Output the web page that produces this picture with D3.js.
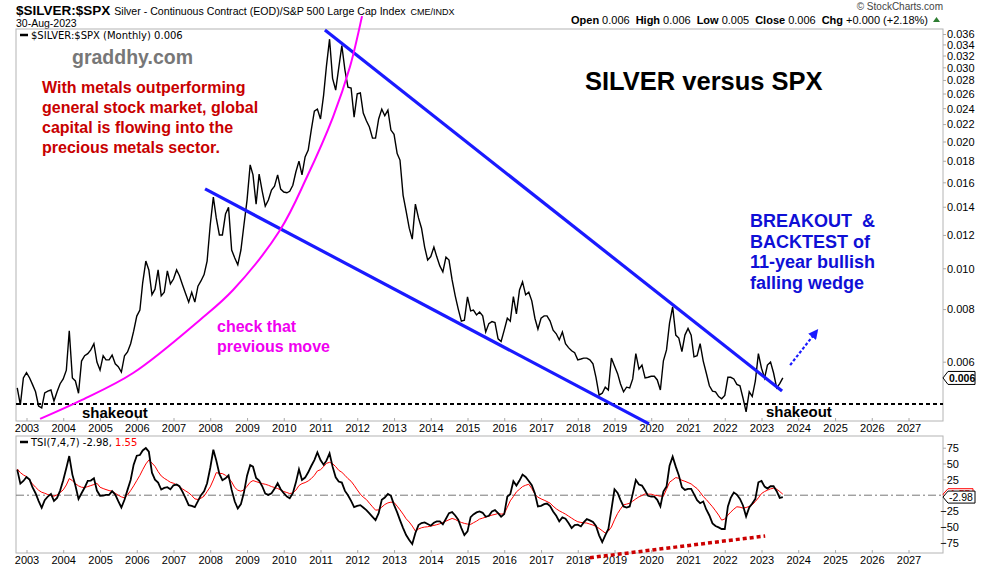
<!DOCTYPE html>
<html>
<head>
<meta charset="UTF-8" />
<title>SILVER versus SPX</title>
<script src="https://d3js.org/d3.v7.min.js"></script>
<style>
  body { margin: 0; background: #fff; }
  svg { display: block; font-family: "Liberation Sans", Arial, sans-serif; }
  .axis text { font-size: 11px; fill: #000; }
  .axis line { stroke: #aaa; }
  .axis path { display: none; }
  .legend { font-family: "DejaVu Sans", Verdana, sans-serif; font-size: 10px; }
  .note { font-weight: bold; }
</style>
</head>
<body>
<svg id="chart" width="990" height="569"></svg>
<script>
  // monthly closes of $SILVER:$SPX, first one is Oct 2002, last Aug 2023
  const firstMonth = new Date(2002, 9, 1);
  const ratio = [
    0.00520, 0.00474, 0.00549,
    0.00565, 0.00549, 0.00530, 0.00509, 0.00471, 0.00466, 0.00506, 0.00511, 0.00514, 0.00484, 0.00509, 0.00532,
    0.00546, 0.00573, 0.00710, 0.00549, 0.00540, 0.00505, 0.00602, 0.00620, 0.00627, 0.00640, 0.00662, 0.00599,
    0.00573, 0.00620, 0.00606, 0.00606, 0.00622, 0.00593, 0.00584, 0.00567, 0.00620, 0.00633, 0.00662, 0.00709,
    0.00770, 0.00796, 0.00925, 0.01040, 0.00991, 0.00865, 0.00892, 0.00991, 0.00860, 0.00877, 0.00986, 0.00918,
    0.00943, 0.00991, 0.00960, 0.00913, 0.00871, 0.00831, 0.00877, 0.00831, 0.00907, 0.00933, 0.00966, 0.01040,
    0.01267, 0.01475, 0.01317, 0.01200, 0.01200, 0.01345, 0.01395, 0.01105, 0.01058, 0.01019, 0.01105, 0.01267,
    0.01452, 0.01760, 0.01667, 0.01420, 0.01673, 0.01523, 0.01405, 0.01452, 0.01534, 0.01566, 0.01667, 0.01542,
    0.01517, 0.01511, 0.01523, 0.01575, 0.01693, 0.01797, 0.01667, 0.01838, 0.01909, 0.02129, 0.02362, 0.02387,
    0.02262, 0.02578, 0.03020, 0.03499, 0.02825, 0.02650, 0.02987, 0.03380, 0.02956, 0.02693, 0.02680, 0.02285,
    0.02595, 0.02608, 0.02336, 0.02240, 0.02165, 0.02037, 0.02037, 0.02262, 0.02387, 0.02303, 0.02375, 0.02129,
    0.02080, 0.01872, 0.01807, 0.01490, 0.01367, 0.01245, 0.01173, 0.01420, 0.01317, 0.01245, 0.01123, 0.01046,
    0.01066, 0.01123, 0.01066, 0.01013, 0.00980, 0.01063, 0.01046, 0.00938, 0.00860, 0.00800, 0.00749, 0.00753,
    0.00855, 0.00792, 0.00796, 0.00775, 0.00787, 0.00771, 0.00706, 0.00739, 0.00747, 0.00743, 0.00680, 0.00670,
    0.00713, 0.00761, 0.00749, 0.00857, 0.00779, 0.00888, 0.00928, 0.00865, 0.00877, 0.00837, 0.00761, 0.00717,
    0.00761, 0.00771, 0.00771, 0.00749, 0.00713, 0.00699, 0.00676, 0.00706, 0.00662, 0.00648, 0.00637, 0.00630,
    0.00606, 0.00609, 0.00612, 0.00612, 0.00606, 0.00593, 0.00551, 0.00500, 0.00505, 0.00522, 0.00514, 0.00612,
    0.00586, 0.00562, 0.00532, 0.00509, 0.00522, 0.00520, 0.00546, 0.00627, 0.00576, 0.00589, 0.00549, 0.00551,
    0.00554, 0.00554, 0.00543, 0.00514, 0.00603, 0.00640, 0.00741, 0.00810, 0.00694, 0.00683, 0.00634, 0.00694,
    0.00720, 0.00694, 0.00616, 0.00620, 0.00662, 0.00602, 0.00564, 0.00526, 0.00511, 0.00509, 0.00496, 0.00490,
    0.00499, 0.00551, 0.00551, 0.00546, 0.00530, 0.00526, 0.00492, 0.00456, 0.00509, 0.00496, 0.00540, 0.00627,
    0.00579, 0.00549, 0.00589, 0.00599, 0.00564, 0.00520, 0.00532, 0.00549
  ];

  // TSI(7,4,7) and its signal line, same months
  const tsi = [
    40.3, 18.3, 22.5,
    28.8, 24.6, 12.6, 3.1, -8.9, -19.9, -7.9, -2.1, 2.1, -8.9, -4.2, 7.3,
    23.6, 43.0, 61.8, 32.5, 15.2, -5.8, 3.1, 12.1, 22.5, 23.1, 26.7, 7.3,
    -1.0, -0.5, 0.5, 0.5, 6.3, 1.0, -9.4, -19.4, -7.3, 8.4, 24.1, 48.2,
    62.4, 63.4, 70.7, 74.4, 68.6, 35.6, 24.6, 19.9, 8.9, 11.5, 12.6, 9.4,
    15.7, 16.8, 14.1, 5.2, -4.7, -15.7, -16.8, -18.9, -9.4, 0, 6.3, 18.9,
    43.0, 71.8, 55.0, 33.5, 23.6, 26.7, 31.4, 8.4, -10.0, -21.0, -14.1, 4.2,
    30.9, 47.7, 45.1, 27.2, 23.1, 14.1, 2.6, 0.5, 3.1, 10.0, 18.9, 9.4,
    3.1, -2.1, -4.7, 3.1, 19.9, 40.9, 24.1, 27.8, 36.2, 46.1, 55.5, 67.6,
    55.5, 48.2, 54.5, 66.0, 45.1, 28.3, 21.5, 19.9, 6.8, 0, -8.9, -18.9,
    -16.8, -15.7, -19.4, -23.6, -28.8, -34.1, -39.3, -28.3, -7.3, -3.7, 2.1, -1.0,
    -15.2, -27.2, -39.3, -51.9, -62.9, -70.7, -77.0, -59.7, -47.2, -44.0, -43.0, -45.6,
    -48.2, -43.5, -41.4, -41.4, -46.1, -37.2, -28.3, -26.7, -32.0, -38.8, -51.9, -62.9,
    -57.1, -34.6, -30.4, -27.2, -25.7, -27.8, -34.1, -32.5, -25.7, -23.6, -28.3, -34.1,
    -29.9, -2.1, 1.6, 22.0, 15.2, 23.1, 32.5, 28.8, 22.5, 15.7, 2.6, -17.8,
    -16.8, -14.1, -13.1, -17.3, -25.7, -32.5, -41.4, -35.1, -37.2, -44.0, -51.9, -47.2,
    -46.6, -49.3, -43.0, -37.7, -39.8, -42.4, -48.7, -63.4, -73.9, -63.4, -53.4, -23.1,
    9.4, 3.7, -7.3, -17.8, -19.4, -17.8, 2.1, 24.1, 16.8, 15.2, 7.3, -1.0,
    -2.1, -2.1, -7.3, -17.8, 5.8, 13.6, 46.6, 60.8, 45.1, 31.4, 12.6, 8.4,
    10.0, 10.0, 1.6, -7.9, -12.6, -10.0, -22.5, -32.0, -44.5, -48.7, -50.8, -53.4,
    -53.4, -17.8, -4.2, 4.2, 1.0, -5.8, -16.2, -33.5, -19.4, -13.1, -5.8, 20.4,
    22.5, 13.6, 10.5, 14.1, 14.1, 6.3, -4.2, -2.98
  ];
  const tsiSignal = [
    41.4, 35.6, 32.0,
    29.3, 23.6, 17.8, 12.6, 7.9, 4.7, 3.1, 1.0, -0.5, -1.6, 0.5, 4.2,
    8.4, 16.2, 26.2, 23.1, 18.3, 14.7, 12.6, 12.1, 13.6, 15.2, 16.8, 18.9,
    12.6, 10.5, 8.9, 7.3, 6.3, 3.1, 0, -2.6, -4.2, 0.5, 7.3, 14.7,
    23.1, 31.4, 40.3, 49.3, 55.5, 50.8, 45.6, 37.2, 30.4, 26.7, 23.6, 20.4,
    18.9, 16.2, 13.1, 9.9, 6.8, 3.7, -0.5, -5.8, -6.8, -4.7, -1.6, 5.8,
    13.1, 24.1, 35.6, 34.6, 34.1, 31.4, 27.2, 21.0, 12.1, 7.9, 6.3, 8.4,
    14.1, 20.4, 23.1, 21.5, 19.9, 18.3, 17.3, 15.7, 13.6, 12.1, 10.5, 8.4,
    5.8, 4.2, 2.6, 3.7, 7.9, 15.2, 18.3, 19.9, 22.5, 26.2, 31.4, 38.3,
    40.3, 45.1, 50.3, 51.9, 49.8, 45.1, 39.3, 36.2, 31.4, 26.2, 22.0, 15.7,
    8.4, 1.6, -3.1, -6.8, -12.6, -18.3, -23.6, -23.1, -18.9, -14.7, -12.1, -11.0,
    -11.5, -17.3, -23.1, -29.9, -37.2, -42.4, -48.7, -56.6, -53.4, -51.4, -50.3, -49.8,
    -48.7, -47.7, -46.6, -45.1, -43.0, -40.9, -38.8, -36.7, -38.3, -40.9, -43.0, -44.5,
    -45.6, -46.1, -43.5, -40.9, -37.7, -36.2, -34.6, -33.0, -31.4, -30.4, -28.8, -29.9,
    -29.3, -18.9, -8.9, -2.1, 5.2, 9.4, 13.6, 15.7, 17.3, 10.5, 1.6, -3.1,
    -5.8, -7.9, -10.0, -12.6, -17.3, -21.5, -24.6, -27.2, -29.9, -33.0, -36.2, -39.3,
    -41.9, -43.0, -43.5, -44.0, -45.6, -47.2, -49.3, -52.4, -56.1, -59.7, -56.6, -50.3,
    -38.8, -28.8, -22.0, -15.2, -14.1, -12.6, -9.4, -5.8, -2.6, -0.5, 2.1, 1.6,
    1.6, 0, -0.5, -1.6, -1.6, 9.4, 20.4, 24.1, 27.8, 26.7, 23.6, 22.0,
    19.9, 17.8, 14.1, 10.5, 4.7, -2.1, -6.8, -12.6, -18.3, -24.6, -31.4, -39.3,
    -37.7, -31.4, -26.7, -22.0, -18.3, -18.9, -20.4, -19.4, -17.8, -15.2, -9.9, -4.2,
    2.6, 5.8, 7.9, 10.0, 11.0, 9.4, 5.8, 1.55
  ];

  const priceTicks = [0.006, 0.008, 0.010, 0.012, 0.014, 0.016, 0.018, 0.020, 0.022,
                      0.024, 0.026, 0.028, 0.030, 0.032, 0.034, 0.036];
  const tsiTicks = [75, 50, 25, -25, -50, -75];
  const yearTicks = d3.range(2003, 2028);

  // hand drawn annotations, [decimal year, value]
  const upperWedge = [[2011.12, 0.0368], [2023.56, 0.00511]];
  const lowerWedge = [[2007.86, 0.01543], [2019.94, 0.00427]];
  const parabola = [[2003.37, 0.00439], [2004.51, 0.00487], [2005.90, 0.00564], [2007.72, 0.00754],
                    [2008.62, 0.00888], [2009.90, 0.01233], [2010.63, 0.01647], [2011.34, 0.02286],
                    [2011.80, 0.03005], [2012.13, 0.0397]];
  const shakeoutLevel = 0.00476;
  const arrowPts = [[2023.78, 0.00589], [2024.46, 0.00702]];
  const tsiDivergence = [[2018.33, -98.7], [2023.10, -64.4]];

  const svg = d3.select("#chart");
  const left = 16, right = 943;
  const main = { top: 29, bottom: 421 };
  const low = { top: 436, bottom: 553 };

  const monthDate = i => new Date(firstMonth.getFullYear(), firstMonth.getMonth() + i, 1);
  function yearDate(t) {
    const y = Math.floor(t), a = new Date(y, 0, 1), b = new Date(y + 1, 0, 1);
    return new Date(+a + (t - y) * (b - a));
  }

  const x = d3.scaleTime()
    .domain([new Date(2003, 0, 1), new Date(2027, 0, 1)])
    .range([26.5, 26.5 + 24 * 36.75]);
  const y = d3.scaleLog().domain([0.006, 0.036]).range([361.7, 34]);
  const yT = d3.scaleLinear().domain([-75, 75]).range([542.7, 447.7]);

  // header
  const head = svg.append("text").attr("x", left).attr("y", 14.5);
  head.append("tspan").attr("font-weight", "bold").attr("font-size", 13.5).text("$SILVER:$SPX");
  head.append("tspan").attr("font-size", 10.6).attr("dx", 4)
    .text("Silver - Continuous Contract (EOD)/S&P 500 Large Cap Index");
  head.append("tspan").attr("font-size", 9).attr("dx", 5).text("CME/INDX");
  svg.append("text").attr("x", left).attr("y", 26.5).attr("font-size", 10.5).text("30-Aug-2023");

  svg.append("text").attr("x", right).attr("y", 10).attr("text-anchor", "end")
    .attr("font-size", 10).attr("fill", "#444").text("\u00a9 StockCharts.com");

  const ohlc = svg.append("text").attr("x", 928).attr("y", 24).attr("text-anchor", "end").attr("font-size", 11);
  [["Open", "0.006"], ["High", "0.006"], ["Low", "0.005"], ["Close", "0.006"], ["Chg", "+0.000 (+2.18%)"]]
    .forEach(([k, v], i) => {
      ohlc.append("tspan").attr("font-weight", "bold").attr("dx", i ? 6 : 0).text(k);
      ohlc.append("tspan").attr("dx", 3).text(v);
    });
  svg.append("path").attr("d", "M933,22L940,22L936.5,17Z").attr("fill", "#2e7d32");

  // panels
  [main, low].forEach(p => {
    svg.append("rect").attr("x", left).attr("y", p.top)
      .attr("width", right - left).attr("height", p.bottom - p.top)
      .attr("fill", "none").attr("stroke", "#b4b4b4");
  });

  // x axes, ticks point up into the panel
  [main.bottom, low.bottom].forEach(b => {
    svg.append("g").attr("class", "axis").attr("transform", `translate(0,${b})`)
      .call(d3.axisBottom(x).tickValues(yearTicks.map(v => new Date(v, 0, 1)))
        .tickFormat(d3.timeFormat("%Y")).tickSize(-3).tickPadding(3));
  });

  // y axes
  svg.append("g").attr("class", "axis").attr("transform", `translate(${right},0)`)
    .call(d3.axisRight(y).tickValues(priceTicks).tickFormat(d3.format(".3f")).tickSize(3).tickPadding(1))
    .selectAll("text").attr("dy", "0.35em");
  svg.append("g").attr("class", "axis").attr("transform", `translate(${right},0)`)
    .call(d3.axisRight(yT).tickValues(tsiTicks).tickSize(3).tickPadding(1))
    .selectAll("text").attr("text-anchor", "end").attr("x", 16).attr("dy", "0.35em");

  // shakeout line
  svg.append("line").attr("x1", left).attr("x2", right)
    .attr("y1", y(shakeoutLevel)).attr("y2", y(shakeoutLevel))
    .attr("stroke", "#000").attr("stroke-width", 2).attr("stroke-dasharray", "4,3");

  // price line
  const priceLine = d3.line().x((d, i) => x(monthDate(i))).y(d => y(d));
  svg.append("path").datum(ratio).attr("d", priceLine)
    .attr("fill", "none").attr("stroke", "#000").attr("stroke-width", 1.4);

  // wedge + parabola
  const annLine = d3.line().x(d => x(yearDate(d[0]))).y(d => y(d[1]));
  [upperWedge, lowerWedge].forEach(w => {
    svg.append("path").datum(w).attr("d", annLine)
      .attr("fill", "none").attr("stroke", "#1a1aff").attr("stroke-width", 3.2);
  });
  svg.append("path").datum(parabola).attr("d", annLine.curve(d3.curveCatmullRom))
    .attr("fill", "none").attr("stroke", "#ff00ff").attr("stroke-width", 2);
  annLine.curve(d3.curveLinear);

  // dotted arrow
  svg.append("defs").append("marker")
    .attr("id", "head").attr("viewBox", "0 -5 10 10").attr("refX", 5).attr("refY", 0)
    .attr("markerWidth", 4.5).attr("markerHeight", 4.5).attr("orient", "auto")
    .append("path").attr("d", "M0,-5L10,0L0,5Z").attr("fill", "#1a1aff");
  svg.append("path").datum(arrowPts).attr("d", annLine)
    .attr("fill", "none").attr("stroke", "#1a1aff").attr("stroke-width", 2.2)
    .attr("stroke-dasharray", "3,2").attr("marker-end", "url(#head)");

  // legend main
  svg.append("line").attr("x1", 20).attr("x2", 28).attr("y1", 35).attr("y2", 35)
    .attr("stroke", "#000").attr("stroke-width", 2.5);
  svg.append("text").attr("class", "legend").attr("x", 31).attr("y", 39)
    .text("$SILVER:$SPX (Monthly) 0.006");

  // last value tag
  const lastY = y(ratio[ratio.length - 1]);
  svg.append("path")
    .attr("d", `M${right},${lastY}L${right + 5},${lastY - 6.5}L${right + 32},${lastY - 6.5}L${right + 32},${lastY + 6.5}L${right + 5},${lastY + 6.5}Z`)
    .attr("fill", "#fff").attr("stroke", "#000");
  svg.append("text").attr("x", right + 6).attr("y", lastY + 4).attr("font-size", 10.5)
    .attr("font-weight", "bold").text("0.006");

  // TSI panel
  svg.append("line").attr("x1", left).attr("x2", right).attr("y1", yT(0)).attr("y2", yT(0))
    .attr("stroke", "#777").attr("stroke-dasharray", "8,3,2,3");
  const tsiLine = d3.line().x((d, i) => x(monthDate(i))).y(d => yT(d));
  svg.append("path").datum(tsiSignal).attr("d", tsiLine)
    .attr("fill", "none").attr("stroke", "#ff0000").attr("stroke-width", 1);
  svg.append("path").datum(tsi).attr("d", tsiLine)
    .attr("fill", "none").attr("stroke", "#000").attr("stroke-width", 1.8);

  const tsiAnn = d3.line().x(d => x(yearDate(d[0]))).y(d => yT(d[1]));
  svg.append("path").datum(tsiDivergence).attr("d", tsiAnn)
    .attr("fill", "none").attr("stroke", "#cc0000").attr("stroke-width", 3.5)
    .attr("stroke-dasharray", "4,3");

  svg.append("line").attr("x1", 20).attr("x2", 28).attr("y1", 442).attr("y2", 442)
    .attr("stroke", "#000").attr("stroke-width", 2.5);
  const tl = svg.append("text").attr("class", "legend").attr("x", 31).attr("y", 446);
  tl.append("tspan").text("TSI(7,4,7) -2.98, ");
  tl.append("tspan").attr("fill", "#ff0000").text("1.55");

  // value tags on TSI axis
  const sY = yT(tsiSignal[tsiSignal.length - 1]), tY = yT(tsi[tsi.length - 1]);
  svg.append("path")
    .attr("d", `M${right},${sY}L${right + 5},${sY - 5.5}L${right + 30},${sY - 5.5}L${right + 30},${sY + 5.5}L${right + 5},${sY + 5.5}Z`)
    .attr("fill", "#fff").attr("stroke", "#ff0000");
  svg.append("text").attr("x", right + 7).attr("y", sY + 4).attr("font-size", 10.5).attr("fill", "#ff0000").text("1.55");
  svg.append("path")
    .attr("d", `M${right},${tY}L${right + 5},${tY - 6}L${right + 32},${tY - 6}L${right + 32},${tY + 6}L${right + 5},${tY + 6}Z`)
    .attr("fill", "#fff").attr("stroke", "#000");
  svg.append("text").attr("x", right + 6).attr("y", tY + 4).attr("font-size", 10.5).text("-2.98");

  // notes
  svg.append("text").attr("class", "note").attr("x", 72).attr("y", 64)
    .attr("font-size", 19.5).attr("fill", "#777").text("graddhy.com");

  const red = svg.append("text").attr("class", "note").attr("font-size", 16).attr("fill", "#c80000");
  ["With metals outperforming", "general stock market, global",
   "capital is flowing into the", "precious metals sector."].forEach((s, i) => {
    red.append("tspan").attr("x", 42).attr("y", 92.5 + i * 20).text(s);
  });

  svg.append("text").attr("class", "note").attr("x", 585).attr("y", 89.5)
    .attr("font-size", 25.5).attr("fill", "#000").text("SILVER versus SPX");

  const blue = svg.append("text").attr("class", "note").attr("font-size", 18).attr("fill", "#0f0fd6");
  ["BREAKOUT\u00a0 &", "BACKTEST of", "11-year bullish", "falling wedge"].forEach((s, i) => {
    blue.append("tspan").attr("x", 750).attr("y", 227 + i * 20.5).text(s);
  });

  const mag = svg.append("text").attr("class", "note").attr("font-size", 16).attr("fill", "#f000f0");
  ["check that", "previous move"].forEach((s, i) => {
    mag.append("tspan").attr("x", 217).attr("y", 332 + i * 20).text(s);
  });

  svg.append("text").attr("class", "note").attr("x", 82).attr("y", 418)
    .attr("font-size", 15).text("shakeout");
  svg.append("text").attr("class", "note").attr("x", 766).attr("y", 417)
    .attr("font-size", 15).text("shakeout");
</script>
</body>
</html>
